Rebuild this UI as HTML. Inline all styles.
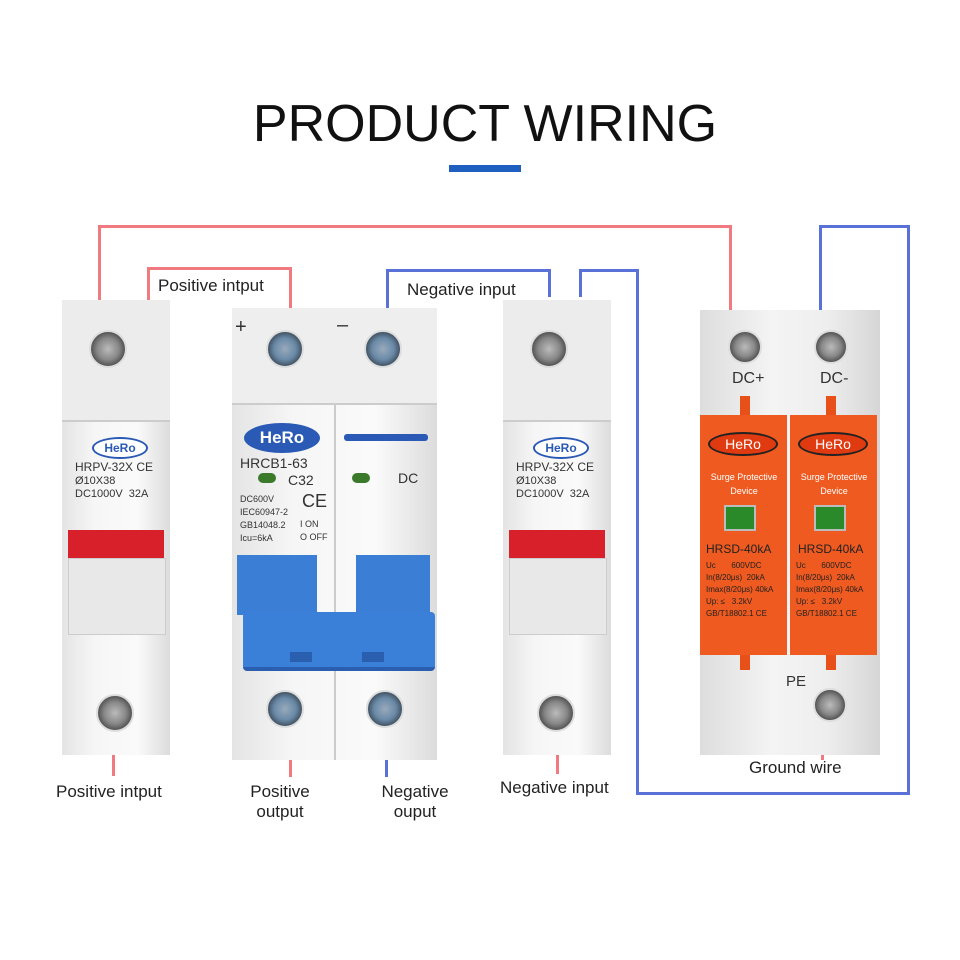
<!DOCTYPE html>
<html><head><style>
body{margin:0;width:960px;height:960px;background:#fff;position:relative;overflow:hidden;font-family:"Liberation Sans",sans-serif}
.a{position:absolute}
.w{position:absolute;background:#f07a80}
.b{position:absolute;background:#5a72d8}
.lbl{position:absolute;font-size:17px;color:#222;text-align:center;line-height:20px}
.scr{position:absolute;width:34px;height:34px;border-radius:50%;background:radial-gradient(circle,#bbb 0,#888 45%,#555 70%,#999 100%);border:2px solid #ddd}
.scrb{background:radial-gradient(circle,#9ab 0,#6a8aa8 45%,#456 70%,#99a 100%)}
.body{position:absolute;background:linear-gradient(90deg,#e4e4e4,#f6f6f6 30%,#fafafa 70%,#dcdcdc)}
.t{position:absolute;font-size:11px;color:#333}
.hero{position:absolute;border:2px solid #2a5ab5;border-radius:50%;color:#2a5ab5;font-weight:bold;text-align:center;background:#fff}
.heroo{position:absolute;border:2px solid #222;border-radius:50%;color:#fff;background:#e03a10;font-size:14px;text-align:center;line-height:20px}
</style></head><body>
<div class="a" style="left:0;top:94px;width:970px;text-align:center;font-size:52px;color:#111">PRODUCT WIRING</div>
<div class="a" style="left:449px;top:165px;width:72px;height:7px;background:#1f5fbf"></div>

<div class="w" style="left:98px;top:225px;width:3px;height:80px"></div>
<div class="w" style="left:98px;top:225px;width:634px;height:3px"></div>
<div class="w" style="left:729px;top:225px;width:3px;height:88px"></div>
<div class="w" style="left:147px;top:267px;width:3px;height:33px"></div>
<div class="w" style="left:147px;top:267px;width:145px;height:3px"></div>
<div class="w" style="left:289px;top:267px;width:3px;height:45px"></div>
<div class="b" style="left:386px;top:269px;width:3px;height:44px"></div>
<div class="b" style="left:386px;top:269px;width:165px;height:3px"></div>
<div class="b" style="left:548px;top:269px;width:3px;height:28px"></div>
<div class="b" style="left:579px;top:269px;width:3px;height:28px"></div>
<div class="b" style="left:579px;top:269px;width:59px;height:3px"></div>
<div class="b" style="left:636px;top:269px;width:3px;height:526px"></div>
<div class="b" style="left:636px;top:792px;width:274px;height:3px"></div>
<div class="b" style="left:907px;top:225px;width:3px;height:570px"></div>
<div class="b" style="left:819px;top:225px;width:91px;height:3px"></div>
<div class="b" style="left:819px;top:225px;width:3px;height:88px"></div>
<div class="w" style="left:112px;top:752px;width:3px;height:24px"></div>
<div class="w" style="left:289px;top:755px;width:3px;height:22px"></div>
<div class="b" style="left:385px;top:755px;width:3px;height:22px"></div>
<div class="w" style="left:556px;top:752px;width:3px;height:22px"></div>
<div class="w" style="left:821px;top:742px;width:3px;height:18px"></div>

<div class="lbl" style="left:158px;top:276px">Positive intput</div>
<div class="lbl" style="left:407px;top:280px">Negative input</div>
<div class="lbl" style="left:56px;top:782px">Positive intput</div>
<div class="lbl" style="left:240px;top:782px;width:80px">Positive<br>output</div>
<div class="lbl" style="left:370px;top:782px;width:90px">Negative<br>ouput</div>
<div class="lbl" style="left:500px;top:778px">Negative input</div>
<div class="lbl" style="left:749px;top:758px">Ground wire</div>

<div class="body" style="left:62px;top:300px;width:108px;height:455px"></div>
<div class="a" style="left:62px;top:300px;width:108px;height:120px;background:#ececec;border-bottom:2px solid #ccc"></div>
<div class="scr" style="left:89px;top:330px"></div>
<div class="hero" style="left:92px;top:437px;width:52px;height:18px;font-size:12px;line-height:18px">HeRo</div>
<div class="t" style="left:75px;top:460px;font-size:12px">HRPV-32X CE</div>
<div class="t" style="left:75px;top:475px">Ø10X38</div>
<div class="t" style="left:75px;top:488px">DC1000V &nbsp;32A</div>
<div class="a" style="left:68px;top:530px;width:96px;height:28px;background:#d8202a"></div>
<div class="a" style="left:68px;top:558px;width:96px;height:75px;background:#e8e8e8;border:1px solid #ccc"></div>
<div class="scr" style="left:96px;top:694px"></div>

<div class="body" style="left:503px;top:300px;width:108px;height:455px"></div>
<div class="a" style="left:503px;top:300px;width:108px;height:120px;background:#ececec;border-bottom:2px solid #ccc"></div>
<div class="scr" style="left:530px;top:330px"></div>
<div class="hero" style="left:533px;top:437px;width:52px;height:18px;font-size:12px;line-height:18px">HeRo</div>
<div class="t" style="left:516px;top:460px;font-size:12px">HRPV-32X CE</div>
<div class="t" style="left:516px;top:475px">Ø10X38</div>
<div class="t" style="left:516px;top:488px">DC1000V &nbsp;32A</div>
<div class="a" style="left:509px;top:530px;width:96px;height:28px;background:#d8202a"></div>
<div class="a" style="left:509px;top:558px;width:96px;height:75px;background:#e8e8e8;border:1px solid #ccc"></div>
<div class="scr" style="left:537px;top:694px"></div>

<div class="body" style="left:232px;top:308px;width:205px;height:452px"></div>
<div class="a" style="left:334px;top:308px;width:2px;height:452px;background:#ccc"></div>
<div class="a" style="left:232px;top:308px;width:205px;height:95px;background:#eee;border-bottom:2px solid #ccc"></div>
<div class="scr scrb" style="left:266px;top:330px"></div>
<div class="scr scrb" style="left:364px;top:330px"></div>
<div class="t" style="left:235px;top:316px;font-size:20px">+</div>
<div class="t" style="left:337px;top:314px;font-size:20px">–</div>
<div class="hero" style="left:244px;top:423px;width:72px;height:26px;font-size:17px;line-height:26px;background:#2a5ab5;color:#fff">HeRo</div>
<div class="a" style="left:344px;top:434px;width:84px;height:7px;background:#2a5ab5;border-radius:3px"></div>
<div class="t" style="left:240px;top:455px;font-size:14px">HRCB1-63</div>
<div class="t" style="left:288px;top:472px;font-size:14px">C32</div>
<div class="a" style="left:258px;top:473px;width:18px;height:10px;background:#3a7a2a;border-radius:5px"></div>
<div class="a" style="left:352px;top:473px;width:18px;height:10px;background:#3a7a2a;border-radius:5px"></div>
<div class="t" style="left:398px;top:470px;font-size:14px">DC</div>
<div class="t" style="left:240px;top:493px;font-size:9px;line-height:13px">DC600V<br>IEC60947-2<br>GB14048.2<br>Icu=6kA</div>
<div class="t" style="left:302px;top:491px;font-size:18px">CE</div>
<div class="t" style="left:300px;top:518px;font-size:9px;line-height:13px">I ON<br>O OFF</div>
<div class="a" style="left:237px;top:555px;width:80px;height:60px;background:#3a7fd5"></div>
<div class="a" style="left:356px;top:555px;width:74px;height:60px;background:#3a7fd5"></div>
<div class="a" style="left:243px;top:612px;width:192px;height:55px;background:#3a7fd8;border-radius:4px;border-bottom:4px solid #2a5fb0"></div>
<div class="a" style="left:290px;top:652px;width:22px;height:10px;background:#2a5fb0"></div>
<div class="a" style="left:362px;top:652px;width:22px;height:10px;background:#2a5fb0"></div>
<div class="scr scrb" style="left:266px;top:690px"></div>
<div class="scr scrb" style="left:366px;top:690px"></div>

<div class="a" style="left:700px;top:310px;width:180px;height:445px;background:linear-gradient(90deg,#ddd,#f4f4f4 40%,#eee 70%,#d6d6d6)"></div>
<div class="scr" style="left:728px;top:330px;width:30px;height:30px"></div>
<div class="scr" style="left:814px;top:330px;width:30px;height:30px"></div>
<div class="t" style="left:732px;top:370px;font-size:16px">DC+</div>
<div class="t" style="left:820px;top:370px;font-size:16px">DC-</div>
<div class="a" style="left:740px;top:396px;width:10px;height:20px;background:#e8501a"></div>
<div class="a" style="left:826px;top:396px;width:10px;height:20px;background:#e8501a"></div>
<div class="a" style="left:700px;top:415px;width:87px;height:240px;background:#ee5a20"></div>
<div class="a" style="left:790px;top:415px;width:87px;height:240px;background:#ee5a20"></div>
<div class="heroo" style="left:708px;top:432px;width:66px;height:20px">HeRo</div>
<div class="heroo" style="left:798px;top:432px;width:66px;height:20px">HeRo</div>
<div class="t" style="left:704px;top:470px;width:80px;text-align:center;font-size:9px;color:#fff;line-height:14px">Surge Protective<br>Device</div>
<div class="t" style="left:794px;top:470px;width:80px;text-align:center;font-size:9px;color:#fff;line-height:14px">Surge Protective<br>Device</div>
<div class="a" style="left:724px;top:505px;width:28px;height:22px;background:#2a8a2a;border:2px solid #bbb"></div>
<div class="a" style="left:814px;top:505px;width:28px;height:22px;background:#2a8a2a;border:2px solid #bbb"></div>
<div class="t" style="left:706px;top:542px;font-size:12px;color:#222">HRSD-40kA</div>
<div class="t" style="left:798px;top:542px;font-size:12px;color:#222">HRSD-40kA</div>
<div class="t" style="left:706px;top:560px;font-size:8px;line-height:12px;color:#222">Uc &nbsp;&nbsp;&nbsp;&nbsp;&nbsp;&nbsp;600VDC<br>In(8/20μs) &nbsp;20kA<br>Imax(8/20μs) 40kA<br>Up: ≤ &nbsp;&nbsp;3.2kV<br>GB/T18802.1 CE</div>
<div class="t" style="left:796px;top:560px;font-size:8px;line-height:12px;color:#222">Uc &nbsp;&nbsp;&nbsp;&nbsp;&nbsp;&nbsp;600VDC<br>In(8/20μs) &nbsp;20kA<br>Imax(8/20μs) 40kA<br>Up: ≤ &nbsp;&nbsp;3.2kV<br>GB/T18802.1 CE</div>
<div class="a" style="left:740px;top:655px;width:10px;height:15px;background:#e8501a"></div>
<div class="a" style="left:826px;top:655px;width:10px;height:15px;background:#e8501a"></div>
<div class="t" style="left:786px;top:673px;font-size:15px">PE</div>
<div class="scr" style="left:813px;top:688px;width:30px;height:30px"></div>
</body></html>
